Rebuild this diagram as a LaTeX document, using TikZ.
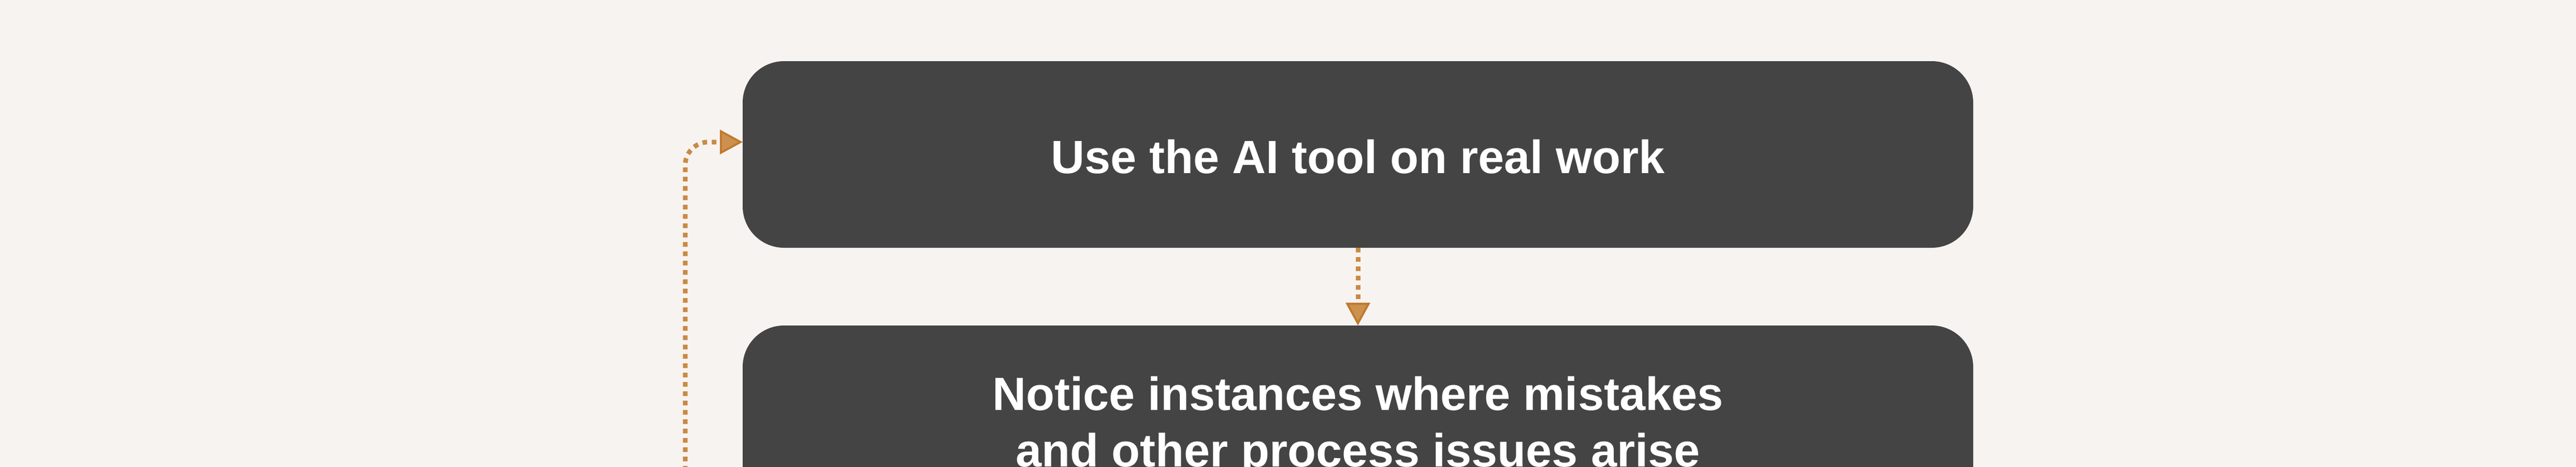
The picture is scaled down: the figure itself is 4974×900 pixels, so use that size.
\documentclass[tikz,border=0pt]{standalone}
\usepackage{fontspec}
\setmainfont{Liberation Sans}
\usetikzlibrary{arrows.meta}
\definecolor{bgcol}{HTML}{F7F3F0}
\definecolor{boxcol}{HTML}{444444}
\definecolor{oLine}{HTML}{C98A45}
\definecolor{oEdge}{HTML}{C07A2E}
\definecolor{oFill}{HTML}{CD914F}
\tikzset{
  stepbox/.style={draw=none, fill=boxcol, rounded corners=80pt, minimum width=2376pt,
    minimum height=360pt, inner sep=0pt, outer sep=0pt, align=center, text=white,
    font=\fontsize{90}{109}\selectfont\bfseries},
  flowline/.style={draw=oLine, line width=9pt, dash pattern=on 9pt off 9pt,
    -{Triangle[length=44pt,width=47pt,line width=4pt,color=oEdge,fill=oFill]}},
}
\begin{document}
\begin{tikzpicture}[x=1pt,y=-1pt]
  \useasboundingbox (0,0) rectangle (4974,900);
  \fill[bgcol] (0,0) rectangle (4974,900);
  \clip (0,0) rectangle (4974,900);
  \node[stepbox, text height=72pt, text depth=0pt] (box1) at (2622,298) {Use the AI tool on real work};
  \node[stepbox, text height=184pt, text depth=0pt] (box2) at (2622,808) {Notice instances where mistakes\\and other process issues arise};
  \coordinate (loopstart) at (1323,980);
  \draw[flowline] (box1.south) -- (box2.north);
  \draw[flowline, rounded corners=45pt] (loopstart) |- ([yshift=24pt]box1.west);
\end{tikzpicture}
\end{document}
